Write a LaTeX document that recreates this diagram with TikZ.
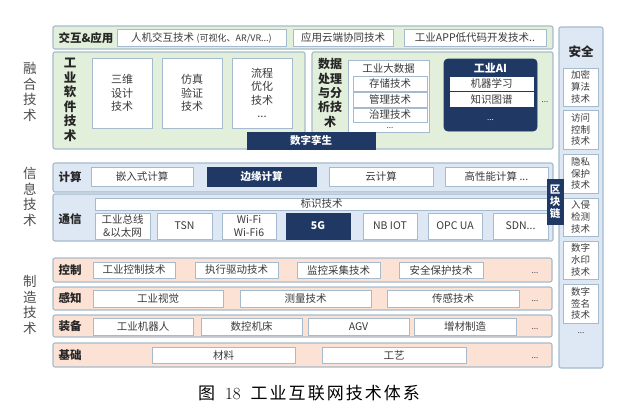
\documentclass[tikz,border=0pt]{standalone}
\usepackage{fontspec}
\usepackage{tikz}
\usepackage{color}
\newfontfamily\cjk{Noto Sans CJK SC}
\newfontfamily\capfont[LetterSpace=12]{Noto Sans CJK SC}
\definecolor{greenbg}{HTML}{E2EFDA}
\definecolor{bluebg}{HTML}{DDE8F4}
\definecolor{peachbg}{HTML}{FBE2D5}
\definecolor{navy}{HTML}{1F3864}
\definecolor{frame}{HTML}{A5BBCD}
\definecolor{txt}{HTML}{3A3A3A}
\tikzset{
  wh/.style 2 args={minimum width=#1pt, minimum height=#2pt},
  cell/.style={draw=frame, line width=0.8pt, fill=white, inner sep=0pt, outer sep=0pt, anchor=north west, align=center, text=txt, font=\cjk\fontsize{10.5}{12.7}\selectfont},
  band/.style={cell, rounded corners=2pt, line width=1.1pt},
  darkcell/.style={cell, draw=navy, fill=navy, text=white, font=\cjk\bfseries\fontsize{10.5}{12}\selectfont},
  tall/.style={cell, font=\cjk\fontsize{11}{13.3}\selectfont},
  narrow/.style={cell, font=\cjk\fontsize{9.5}{11.8}\selectfont},
  plain/.style={inner sep=0pt, align=center, text=txt, font=\cjk\fontsize{10.5}{12}\selectfont},
  tag/.style={inner sep=0pt, align=center, text=black!85, font=\cjk\bfseries\fontsize{11.5}{14.4}\selectfont},
  side/.style={inner sep=0pt, align=center, text=black!70, font=\cjk\fontsize{13.5}{15.6}\selectfont},
  dots/.style={inner sep=0pt, text=txt, font=\cjk\fontsize{8}{10}\selectfont},
}

\begin{document}
\begin{tikzpicture}[x=1pt, y=-1pt]
\useasboundingbox (0,0) rectangle (640,416);
%fusion technology
\node[side] (fusion) at (30,92) {融\\合\\技\\术};
\node[band, fill=greenbg, wh={500}{23}] (app) at (53,26) {};
\node[tag] (applabel) at (86,38) {交互\&应用};
\node[cell, wh={169}{17}] (hmi) at (117,29) {人机交互技术 {\fontsize{9}{10}\selectfont(可视化、AR/VR...)}};
\node[cell, wh={100}{17}] (cloudapp) at (293,29) {应用云端协同技术};
\node[cell, wh={142}{17}] (lowcode) at (404,29) {工业APP低代码开发技术..};
%industrial software
\node[band, fill=greenbg, wh={252}{97}] (software) at (53,52) {};
\node[tag, font=\cjk\bfseries\fontsize{12.5}{14.5}\selectfont] (swlabel) at (70,100) {工\\业\\软\\件\\技\\术};
\node[tall, wh={60}{70}] (cad) at (92,58) {三维\\设计\\技术};
\node[tall, wh={60}{70}] (sim) at (162,58) {仿真\\验证\\技术};
\node[tall, wh={60}{70}] (flow) at (232,58) {流程\\优化\\技术\\...};
%data processing
\node[band, fill=greenbg, wh={241}{97}] (data) at (312,52) {};
\node[tag, font=\cjk\bfseries\fontsize{12}{14.3}\selectfont] (datalabel) at (330,93) {数据\\处理\\与分\\析技\\术};
\node[cell, wh={81}{72}] (bigdata) at (348,60) {};
\node[plain] (bigdatatitle) at (388.5,69) {工业大数据};
\node[cell, wh={74}{15}] (storage) at (353,76) {存储技术};
\node[cell, wh={74}{15}] (manage) at (353,92) {管理技术};
\node[cell, wh={74}{14}] (govern) at (353,108) {治理技术};
\node[dots] (bigdatadots) at (390,128) {...};
%industrial AI
\node[darkcell, rounded corners=4pt, wh={93}{72}] (ai) at (444,59) {};
\node[plain, text=white, font=\cjk\bfseries\fontsize{11}{12}\selectfont] (aititle) at (490.5,68) {工业AI};
\node[cell, draw=white, wh={83}{13}] (ml) at (450,77) {机器学习};
\node[cell, draw=white, wh={83}{14}] (kg) at (450,92) {知识图谱};
\node[dots, text=white] (aidots) at (490.5,120) {...};
\node[dots] (datadots) at (545,102) {...};
%digital twin
\node[darkcell, wh={128}{17}] (twin) at (247,132) {数字孪生};

%security
\node[band, fill=bluebg, wh={44}{341}] (security) at (559,27) {};
\node[tag, font=\cjk\bfseries\fontsize{12.5}{14}\selectfont] (seclabel) at (581,52) {安全};
\node[narrow, wh={35}{38}] (crypto) at (563,68) {加密\\算法\\技术};
\node[narrow, wh={35}{39}] (access) at (563,110) {访问\\控制\\技术};
\node[narrow, wh={35}{39}] (privacy) at (563,154) {隐私\\保护\\技术};
\node[narrow, wh={35}{38}] (intrusion) at (563,198) {入侵\\检测\\技术};
\node[narrow, wh={35}{38}] (watermark) at (563,241) {数字\\水印\\技术};
\node[narrow, wh={35}{39}] (signature) at (563,284) {数字\\签名\\技术};
\node[dots] (secdots) at (581,333) {...};

%information technology
\node[side] (info) at (30,197) {信\\息\\技\\术};
\node[band, fill=bluebg, wh={500}{29}] (compute) at (53,163) {};
\node[tag] (computelabel) at (70,177) {计算};
\node[cell, wh={102}{19}] (embedded) at (91,167) {嵌入式计算};
\node[darkcell, wh={109}{19}] (edge) at (207,167) {边缘计算};
\node[cell, wh={104}{19}] (cloudcomp) at (329,167) {云计算};
\node[cell, wh={103}{19}] (hpc) at (445,167) {高性能计算 ...};
\node[band, fill=bluebg, wh={500}{47}] (comm) at (53,194) {};
\node[tag] (commlabel) at (70,219) {通信};
\node[cell, wh={453}{12}] (ident) at (95,198) {标识技术};
\node[cell, wh={55}{26}] (fieldbus) at (95,213) {工业总线\\\&以太网};
\node[cell, wh={55}{26}] (tsn) at (157,213) {TSN};
\node[cell, wh={54}{26}] (wifi) at (222,213) {Wi-Fi\\Wi-Fi6};
\node[darkcell, wh={64}{26}] (fiveg) at (286,213) {5G};
\node[cell, wh={54}{26}] (nbiot) at (363,213) {NB IOT};
\node[cell, wh={54}{26}] (opcua) at (428,213) {OPC UA};
\node[cell, wh={55}{26}] (sdn) at (493,213) {SDN...};
%blockchain
\node[darkcell, font=\cjk\bfseries\fontsize{10.5}{12}\selectfont, wh={16}{45}] (chain) at (547,179) {区\\块\\链};

%manufacturing technology
\node[side] (manu) at (30,305) {制\\造\\技\\术};
%control
\node[band, fill=peachbg, wh={499}{24}] (control) at (53,258) {};
\node[tag] (controllabel) at (70,270) {控制};
\node[cell, wh={82}{16}] (ctrl) at (93,262) {工业控制技术};
\node[cell, wh={83}{16}] (drive) at (195,262) {执行驱动技术};
\node[cell, wh={83}{16}] (monitor) at (297,262) {监控采集技术};
\node[cell, wh={84}{16}] (protect) at (399,262) {安全保护技术};
\node[dots] (controldots) at (535,273) {...};
%sensing
\node[band, fill=peachbg, wh={499}{23}] (sense) at (53,287) {};
\node[tag] (senselabel) at (70,298) {感知};
\node[cell, wh={130}{17}] (vision) at (93,290) {工业视觉};
\node[cell, wh={131}{17}] (measure) at (240,290) {测量技术};
\node[cell, wh={132}{17}] (sensor) at (387,290) {传感技术};
\node[dots] (sensedots) at (535,301) {...};
%equipment
\node[band, fill=peachbg, wh={499}{22}] (equip) at (53,315) {};
\node[tag] (equiplabel) at (70,326) {装备};
\node[cell, wh={100}{17}] (robot) at (93,318) {工业机器人};
\node[cell, wh={101}{17}] (cnc) at (201,318) {数控机床};
\node[cell, wh={101}{17}] (agv) at (308,318) {AGV};
\node[cell, wh={102}{17}] (additive) at (414,318) {增材制造};
\node[dots] (equipdots) at (535,329) {...};
%basis
\node[band, fill=peachbg, wh={499}{24}] (base) at (53,343) {};
\node[tag] (baselabel) at (70,355) {基础};
\node[cell, wh={143}{16}] (material) at (152,347) {材料};
\node[cell, wh={144}{16}] (process) at (322,347) {工艺};
\node[dots] (basedots) at (535,358) {...};

%caption
\node[inner sep=0pt, font=\fontsize{17}{17}\selectfont] (caption) at (309,393) {{\capfont 图}\hspace{10pt}18\hspace{10pt}{\capfont 工业互联网技术体系}};
\end{tikzpicture}
\end{document}
